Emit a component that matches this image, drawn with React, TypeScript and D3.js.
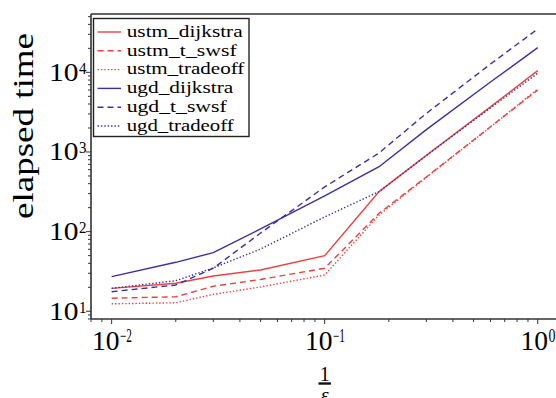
import { useEffect, useRef } from 'react'
import * as d3 from 'd3'

// x values (1/eps) and elapsed time per method
const epsInv = [0.01, 0.02, 0.03, 0.05, 0.1, 0.18, 0.3, 0.6, 1.0]

const ustmDijkstra = [19.4, 22.5, 27.7, 33, 49.9, 318, 906, 3690, 10500]
const ustmTSwsf = [14.6, 15.2, 20.6, 25.1, 34.7, 170, 486, 2070, 6000]
const ustmTradeoff = [12.4, 12.8, 16.3, 20.2, 28.6, 162, 480, 2060, 6200]
const ugdDijkstra = [27.2, 41.2, 54.5, 108, 281, 653, 1910, 7550, 20400]
const ugdTSwsf = [17.6, 21.4, 34.7, 96, 364, 972, 3050, 12700, 35000]
const ugdTradeoff = [19.4, 24.2, 35, 60.5, 153, 318, 902, 3580, 9730]

const seriesNames = ['ustm_dijkstra', 'ustm_t_swsf', 'ustm_tradeoff', 'ugd_dijkstra', 'ugd_t_swsf', 'ugd_tradeoff']
const seriesValues = [ustmDijkstra, ustmTSwsf, ustmTradeoff, ugdDijkstra, ugdTSwsf, ugdTradeoff]

const xTickExps = [-2, -1, 0]
const yTickExps = [1, 2, 3, 4]

const RED = '#ef4040'
const BLUE = '#3a30a0'
const DASH = ['', '6,4', '1.4,2']
const legendWidths = [116, 110, 117.6, 106.6, 100, 107]

export default function App() {
  const svgRef = useRef<SVGSVGElement>(null)

  useEffect(() => {
    if (!svgRef.current) return
    const svg = d3.select(svgRef.current)
    svg.selectAll('*').remove()

    const left = 91
    const top = 14
    const bottom = 319
    const right = 562

    const x = d3.scaleLog().domain([0.008, 1.3]).range([left, right])
    const y = d3.scaleLog().domain([8, 54000]).range([bottom, top])

    const font = '"Liberation Serif", "Times New Roman", serif'
    const axisColor = '#333'

    // lines
    const line = d3
      .line<number>()
      .x((_, i) => x(epsInv[i]))
      .y((d) => y(d))

    seriesValues.forEach((vals, i) => {
      svg
        .append('path')
        .datum(vals)
        .attr('fill', 'none')
        .attr('stroke', i < 3 ? RED : BLUE)
        .attr('stroke-width', 1.4)
        .attr('stroke-dasharray', DASH[i % 3] || null)
        .attr('d', line)
    })

    // spines
    svg.append('line').attr('x1', left).attr('x2', right).attr('y1', top).attr('y2', top)
      .attr('stroke', axisColor).attr('stroke-width', 1.6)
    svg.append('line').attr('x1', left).attr('x2', right).attr('y1', bottom).attr('y2', bottom)
      .attr('stroke', axisColor).attr('stroke-width', 1.6)
    svg.append('line').attr('x1', left).attr('x2', left).attr('y1', top).attr('y2', bottom)
      .attr('stroke', axisColor).attr('stroke-width', 1.6)

    // ticks
    const xTicks = x.ticks().filter((t) => x(t) >= left && x(t) <= right)
    xTicks.forEach((t) => {
      const major = Math.abs(Math.log10(t) - Math.round(Math.log10(t))) < 1e-6
      svg.append('line')
        .attr('x1', x(t)).attr('x2', x(t))
        .attr('y1', bottom).attr('y2', bottom + (major ? 5 : 3))
        .attr('stroke', axisColor).attr('stroke-width', 1)
    })
    const yTicks = y.ticks().filter((t) => y(t) >= top && y(t) <= bottom)
    yTicks.forEach((t) => {
      const major = Math.abs(Math.log10(t) - Math.round(Math.log10(t))) < 1e-6
      svg.append('line')
        .attr('x1', left - (major ? 5 : 3)).attr('x2', left)
        .attr('y1', y(t)).attr('y2', y(t))
        .attr('stroke', axisColor).attr('stroke-width', 1)
    })

    // x tick labels
    xTickExps.forEach((e) => {
      const sup = e < 0 ? `\u2212${-e}` : `${e}`
      const supW = e < 0 ? 12 : 7
      const baseW = 27.5
      const x0 = x(Math.pow(10, e)) - (baseW + supW) / 2
      svg.append('text')
        .attr('x', x0).attr('y', 350)
        .attr('font-family', font).attr('font-size', 28)
        .attr('textLength', baseW).attr('lengthAdjust', 'spacingAndGlyphs')
        .text('10')
      svg.append('text')
        .attr('x', x0 + baseW + 0.5).attr('y', 341.5)
        .attr('font-family', font).attr('font-size', 18)
        .attr('textLength', supW).attr('lengthAdjust', 'spacingAndGlyphs')
        .text(sup)
    })

    // y tick labels
    yTickExps.forEach((e) => {
      const yy = y(Math.pow(10, e))
      svg.append('text')
        .attr('x', 49).attr('y', yy + 8.5)
        .attr('font-family', font).attr('font-size', 26)
        .attr('textLength', 29.5).attr('lengthAdjust', 'spacingAndGlyphs')
        .text('10')
      svg.append('text')
        .attr('x', 79).attr('y', yy + 1.5)
        .attr('font-family', font).attr('font-size', 17)
        .attr('textLength', 7.5).attr('lengthAdjust', 'spacingAndGlyphs')
        .text(`${e}`)
    })

    // y axis label
    svg.append('text')
      .attr('transform', 'translate(33,126) rotate(-90)')
      .attr('text-anchor', 'middle')
      .attr('font-family', font).attr('font-size', 30)
      .attr('textLength', 186).attr('lengthAdjust', 'spacingAndGlyphs')
      .text('elapsed time')

    // x axis label: 1 / epsilon
    const cx = x(0.1)
    svg.append('text')
      .attr('x', cx).attr('y', 381)
      .attr('text-anchor', 'middle')
      .attr('font-family', font).attr('font-size', 20)
      .text('1')
    svg.append('rect')
      .attr('x', cx - 6.2).attr('y', 382.3)
      .attr('width', 12.4).attr('height', 2.4)
      .attr('fill', '#111')
    svg.append('text')
      .attr('x', cx).attr('y', 402)
      .attr('text-anchor', 'middle')
      .attr('font-family', font).attr('font-size', 20)
      .attr('font-style', 'italic')
      .text('\u03b5')

    // legend
    const lg = svg.append('g')
    lg.append('rect')
      .attr('x', 93.5).attr('y', 18.5)
      .attr('width', 155.5).attr('height', 118)
      .attr('fill', '#fff')
      .attr('stroke', '#222').attr('stroke-width', 1.4)
    seriesNames.forEach((name, i) => {
      const ry = 32 + i * 18.8
      lg.append('line')
        .attr('x1', 97.5).attr('x2', 121)
        .attr('y1', ry).attr('y2', ry)
        .attr('stroke', i < 3 ? RED : BLUE)
        .attr('stroke-width', 1.4)
        .attr('stroke-dasharray', DASH[i % 3] || null)
      lg.append('text')
        .attr('x', 126.7).attr('y', ry + 4.7)
        .attr('font-family', font).attr('font-size', 17)
        .attr('textLength', legendWidths[i]).attr('lengthAdjust', 'spacingAndGlyphs')
        .text(name)
    })
  }, [])

  return (
    <svg
      ref={svgRef}
      width={556}
      height={398}
      style={{ position: 'fixed', left: 0, top: 0, background: '#fff' }}
    ></svg>
  )
}
